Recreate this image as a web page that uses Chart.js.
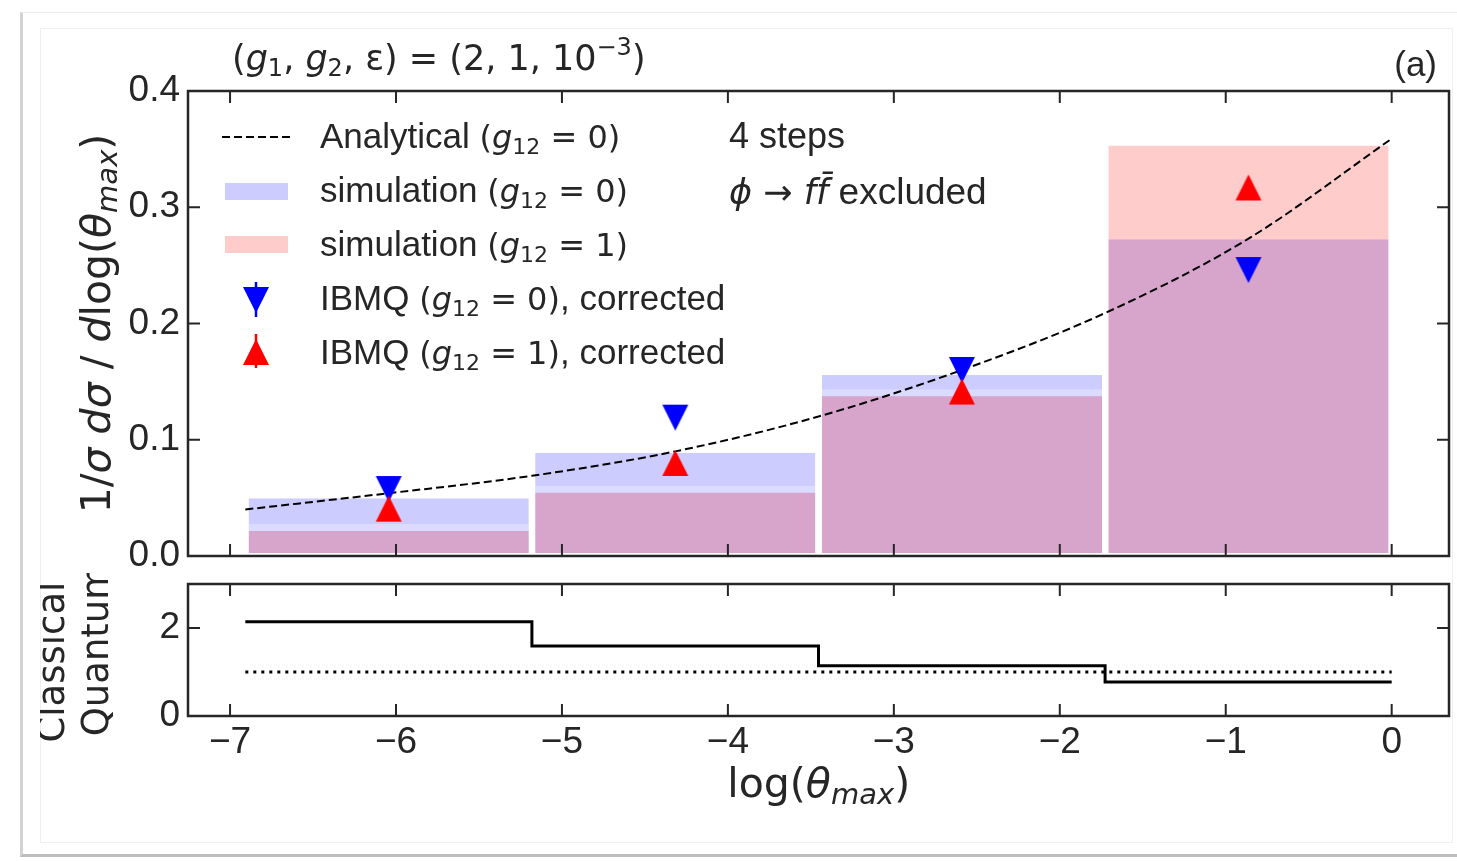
<!DOCTYPE html>
<html><head><meta charset="utf-8">
<script src="https://cdn.jsdelivr.net/npm/chart.js@4.4.0/dist/chart.umd.min.js"></script>
<style>
html,body{margin:0;padding:0;background:#fff;width:1457px;height:861px;overflow:hidden;}
#outer{position:absolute;left:20px;top:12px;width:1460px;height:845px;border-left:3px solid #d2d2d2;border-top:1px solid #ececec;border-bottom:3px solid #bdbdbd;box-sizing:border-box;}
#frame{position:absolute;left:40px;top:28px;width:1413px;height:815px;border:1px solid #efefef;box-sizing:border-box;}
#clip{position:absolute;left:40px;top:28px;width:1413px;height:815px;overflow:hidden;}
canvas{position:absolute;left:0;}
</style></head><body>
<div id="outer"></div><div id="frame"></div>
<div id="clip">
<canvas id="top" width="1413" height="545" style="top:0"></canvas>
<canvas id="bot" width="1413" height="270" style="top:545px"></canvas>
</div>
<script>
// ---------------- data ----------------
const binEdges   = [-6.908, -5.181, -3.454, -1.727, 0];
const binCenters = [-6.044, -4.317, -2.590, -0.863];
const simG0  = [0.0496, 0.0889, 0.1557, 0.2724];   // simulation (g12 = 0)
const simG1  = [0.0275, 0.0605, 0.1434, 0.359];    // simulation (g12 = 1)
const ibmqG0 = [0.0576, 0.119, 0.160, 0.246];      // IBMQ (g12 = 0), corrected
const ibmqG1 = [0.0407, 0.080, 0.1415, 0.317];     // IBMQ (g12 = 1), corrected
const analyticX = [-6.908, -6.044, -5.181, -4.317, -3.454, -2.590, -1.727, -0.863, 0];
const analyticY = [0.040, 0.054, 0.069, 0.090, 0.120, 0.160, 0.209, 0.273, 0.359];
const ratio    = [2.14, 1.59, 1.14, 0.77];         // Classical / Quantum
const ratioRef = [1, 1];
const xTicks    = [-7, -6, -5, -4, -3, -2, -1, 0];
const yTopTicks = [0, 0.1, 0.2, 0.3, 0.4];
const yBotTicks = [0, 2];
const X_MIN = -7.2534, X_MAX = 0.3454;

// ---------------- helpers ----------------
const SANS = '"Liberation Sans", Arial, sans-serif';
const DJ = '"DejaVu Sans", sans-serif';
const INK = '#262626';
Chart.defaults.font.family = SANS;
function R(s, px, o) { o = o || {}; return {s, f: (o.it ? 'italic ' : '') + px + 'px ' + (o.m ? DJ : SANS), dy: o.dy || 0}; }
function runsWidth(ctx, runs) { let w = 0; for (const r of runs) { ctx.font = r.f; w += ctx.measureText(r.s).width; } return w; }
function drawRuns(ctx, runs, x, y) {
  ctx.textAlign = 'left'; ctx.textBaseline = 'alphabetic';
  for (const r of runs) { ctx.font = r.f; ctx.fillText(r.s, x, y + r.dy); x += ctx.measureText(r.s).width; }
  return x;
}
function gSub(val) { return [R('(', 32, {m:1}), R('g', 32, {m:1, it:1}), R('12', 22, {m:1, dy:6}), R(' = ' + val + ')', 32, {m:1})]; }
function tri(color, down) {
  const c = document.createElement('canvas'); c.width = 28; c.height = 28;
  const g = c.getContext('2d'); g.fillStyle = color; g.beginPath();
  if (down) { g.moveTo(1, 1); g.lineTo(27, 1); g.lineTo(14, 27); }
  else { g.moveTo(14, 1); g.lineTo(27, 27); g.lineTo(1, 27); }
  g.closePath(); g.fill(); return c;
}
const triDown = tri('#0000ff', true), triUp = tri('#ff0000', false);
function fmtX(v) { return v < 0 ? '\u2212' + Math.abs(v) : String(v); }
function frameTicks(chart, xt, yt) {
  const {ctx, chartArea: a, scales: {x, y}} = chart;
  const L = 12;
  ctx.save(); ctx.strokeStyle = INK; ctx.lineWidth = 2; ctx.beginPath();
  for (const v of xt) { const p = x.getPixelForValue(v); ctx.moveTo(p, a.top); ctx.lineTo(p, a.top + L); ctx.moveTo(p, a.bottom); ctx.lineTo(p, a.bottom - L); }
  for (const v of yt) { const p = y.getPixelForValue(v); ctx.moveTo(a.left, p); ctx.lineTo(a.left + L, p); ctx.moveTo(a.right, p); ctx.lineTo(a.right - L, p); }
  ctx.stroke();
  ctx.lineWidth = 2.5; ctx.strokeRect(a.left, a.top, a.right - a.left, a.bottom - a.top);
  ctx.restore();
}
function fixY(w) { return s => { s.width = w; s.paddingTop = 0; s.paddingBottom = 0; s.paddingLeft = 0; s.paddingRight = 0; }; }
function fixX(h) { return s => { s.height = h; s.paddingTop = 0; s.paddingBottom = 0; s.paddingLeft = 0; s.paddingRight = 0; }; }

// ---------------- top panel ----------------
const topDeco = {
  id: 'topDeco',
  afterDatasetsDraw(chart) { frameTicks(chart, xTicks, yTopTicks); },
  afterDraw(chart) {
    const ctx = chart.ctx; ctx.save(); ctx.fillStyle = INK;
    // title
    drawRuns(ctx, [R('(', 35, {m:1}), R('g', 35, {m:1, it:1}), R('1', 24, {m:1, dy:6}), R(', ', 35, {m:1}),
      R('g', 35, {m:1, it:1}), R('2', 24, {m:1, dy:6}), R(', \u03b5) = (2, 1, 10', 35, {m:1}),
      R('\u22123', 24, {m:1, dy:-15}), R(')', 35, {m:1})], 192, 42);
    // panel label
    const al = [R('(a)', 35)]; drawRuns(ctx, al, 1397 - runsWidth(ctx, al), 48);
    // legend symbols
    ctx.save();
    ctx.strokeStyle = '#000'; ctx.lineWidth = 2; ctx.setLineDash([8, 4]);
    ctx.beginPath(); ctx.moveTo(182, 109); ctx.lineTo(252, 109); ctx.stroke(); ctx.setLineDash([]);
    ctx.fillStyle = 'rgba(0,0,255,0.2)'; ctx.fillRect(185, 155, 63, 17);
    ctx.fillStyle = 'rgba(255,0,0,0.2)'; ctx.fillRect(185, 208, 63, 17);
    ctx.lineWidth = 2.5;
    ctx.strokeStyle = '#0000ff'; ctx.beginPath(); ctx.moveTo(216, 254); ctx.lineTo(216, 289); ctx.stroke();
    ctx.drawImage(triDown, 216 - 14, 272 - 14);
    ctx.strokeStyle = '#ff0000'; ctx.beginPath(); ctx.moveTo(216, 306); ctx.lineTo(216, 340); ctx.stroke();
    ctx.drawImage(triUp, 216 - 14, 324 - 14);
    ctx.restore();
    // legend texts
    const TX = 280;
    drawRuns(ctx, [R('Analytical ', 35)].concat(gSub('0')), TX, 120);
    drawRuns(ctx, [R('simulation ', 35)].concat(gSub('0')), TX, 174);
    drawRuns(ctx, [R('simulation ', 35)].concat(gSub('1')), TX, 228);
    drawRuns(ctx, [R('IBMQ ', 35)].concat(gSub('0'), [R(', corrected', 35)]), TX, 282);
    drawRuns(ctx, [R('IBMQ ', 35)].concat(gSub('1'), [R(', corrected', 35)]), TX, 336);
    // annotation
    drawRuns(ctx, [R('4 steps', 36)], 689, 120);
    drawRuns(ctx, [R('\u03d5', 35, {m:1, it:1}), R(' \u2192 ', 35, {m:1}), R('f', 35, {m:1, it:1}), R('f\u0304', 35, {m:1, it:1}), R(' excluded', 37)], 689, 176);
    // y title
    const yt = [R('1/', 41, {m:1}), R('\u03c3', 41, {m:1, it:1}), R(' ', 41, {m:1}), R('d', 41, {m:1, it:1}), R('\u03c3', 41, {m:1, it:1}),
      R(' / ', 41, {m:1}), R('d', 41, {m:1, it:1}), R('log(', 41, {m:1}), R('\u03b8', 41, {m:1, it:1}), R('max', 29, {m:1, it:1, dy:7}), R(')', 41, {m:1})];
    ctx.translate(70, 295.5); ctx.rotate(-Math.PI / 2);
    drawRuns(ctx, yt, -runsWidth(ctx, yt) / 2, 0);
    ctx.restore();
  }
};

new Chart(document.getElementById('top'), {
  type: 'bar',
  data: { datasets: [
    { type: 'bar', label: 'simulation (g12 = 0)', data: binCenters.map((x, i) => ({x, y: simG0[i]})),
      backgroundColor: 'rgba(0,0,255,0.2)', borderColor: '#ffffff', borderWidth: {top: 0, right: 0, bottom: 3, left: 0},
      borderSkipped: false, grouped: false, barPercentage: 0.978, categoryPercentage: 1, inflateAmount: 0, order: 5 },
    { type: 'bar', label: 'simulation (g12 = 1)', data: binCenters.map((x, i) => ({x, y: simG1[i]})),
      backgroundColor: 'rgba(255,0,0,0.2)', borderColor: 'rgba(255,255,255,0.28)', borderWidth: {top: 7, right: 0, bottom: 3, left: 0},
      borderSkipped: false, grouped: false, barPercentage: 0.978, categoryPercentage: 1, inflateAmount: 0, order: 4 },
    { type: 'line', label: 'Analytical (g12 = 0)', data: analyticX.map((x, i) => ({x, y: analyticY[i]})),
      borderColor: '#000', borderWidth: 2, borderDash: [8, 4], pointRadius: 0, fill: false, cubicInterpolationMode: 'monotone', order: 3 },
    { type: 'scatter', label: 'IBMQ (g12 = 0), corrected', data: binCenters.map((x, i) => ({x, y: ibmqG0[i]})),
      pointStyle: triDown, pointRadius: 13, order: 2 },
    { type: 'scatter', label: 'IBMQ (g12 = 1), corrected', data: binCenters.map((x, i) => ({x, y: ibmqG1[i]})),
      pointStyle: triUp, pointRadius: 13, order: 1 }
  ]},
  options: {
    responsive: false, animation: false, devicePixelRatio: 1,
    layout: { autoPadding: false, padding: {left: 0, right: 4, top: 63, bottom: 17} },
    plugins: { legend: {display: false}, tooltip: {enabled: false} },
    scales: {
      x: { type: 'linear', min: X_MIN, max: X_MAX, offset: false,
        grid: {display: false, drawTicks: false}, border: {display: false}, ticks: {display: false},
        afterBuildTicks: s => { s.ticks = binCenters.map(v => ({value: v})); }, afterFit: fixX(0) },
      y: { min: 0, max: 0.4, grid: {display: false, drawTicks: false}, border: {display: false},
        ticks: { font: {size: 37, family: SANS}, color: INK, padding: 8, callback: v => Number(v).toFixed(1) },
        afterBuildTicks: s => { s.ticks = yTopTicks.map(v => ({value: v})); }, afterFit: fixY(148) }
    }
  },
  plugins: [topDeco]
});

// ---------------- bottom panel ----------------
const botDeco = {
  id: 'botDeco',
  afterDatasetsDraw(chart) { frameTicks(chart, xTicks, yBotTicks); },
  afterDraw(chart) {
    const ctx = chart.ctx; ctx.save(); ctx.fillStyle = INK;
    const xt = [R('log(', 41, {m:1}), R('\u03b8', 41, {m:1, it:1}), R('max', 29, {m:1, it:1, dy:7}), R(')', 41, {m:1})];
    drawRuns(ctx, xt, 778.75 - runsWidth(ctx, xt) / 2, 224);
    const l1 = [R('Classical /', 37, {m:1})], l2 = [R('Quantum', 37, {m:1})];
    ctx.save(); ctx.translate(24, 77); ctx.rotate(-Math.PI / 2); drawRuns(ctx, l1, -runsWidth(ctx, l1) / 2, 0); ctx.restore();
    ctx.save(); ctx.translate(68, 77); ctx.rotate(-Math.PI / 2); drawRuns(ctx, l2, -runsWidth(ctx, l2) / 2, 0); ctx.restore();
    ctx.restore();
  }
};

const stepData = binEdges.map((x, i) => ({x, y: ratio[Math.min(i, ratio.length - 1)]}));
new Chart(document.getElementById('bot'), {
  type: 'line',
  data: { datasets: [
    { label: 'Classical / Quantum', data: stepData, stepped: true, borderColor: '#000', borderWidth: 3, pointRadius: 0, fill: false, order: 1 },
    { label: 'ratio = 1', data: [{x: binEdges[0], y: ratioRef[0]}, {x: binEdges[binEdges.length - 1], y: ratioRef[1]}],
      borderColor: '#000', borderWidth: 3, borderDash: [3, 5], pointRadius: 0, fill: false, order: 2 }
  ]},
  options: {
    responsive: false, animation: false, devicePixelRatio: 1,
    layout: { autoPadding: false, padding: {left: 0, right: 4, top: 11, bottom: 0} },
    plugins: { legend: {display: false}, tooltip: {enabled: false} },
    scales: {
      x: { type: 'linear', min: X_MIN, max: X_MAX, offset: false,
        grid: {display: false, drawTicks: false}, border: {display: false},
        ticks: { font: {size: 37, family: SANS}, color: INK, padding: 5, maxRotation: 0, autoSkip: false, callback: v => fmtX(v) },
        afterBuildTicks: s => { s.ticks = xTicks.map(v => ({value: v})); }, afterFit: fixX(127) },
      y: { min: 0, max: 3, grid: {display: false, drawTicks: false}, border: {display: false},
        ticks: { font: {size: 37, family: SANS}, color: INK, padding: 8, callback: v => String(v) },
        afterBuildTicks: s => { s.ticks = yBotTicks.map(v => ({value: v})); }, afterFit: fixY(148) }
    }
  },
  plugins: [botDeco]
});
</script>
</body></html>
